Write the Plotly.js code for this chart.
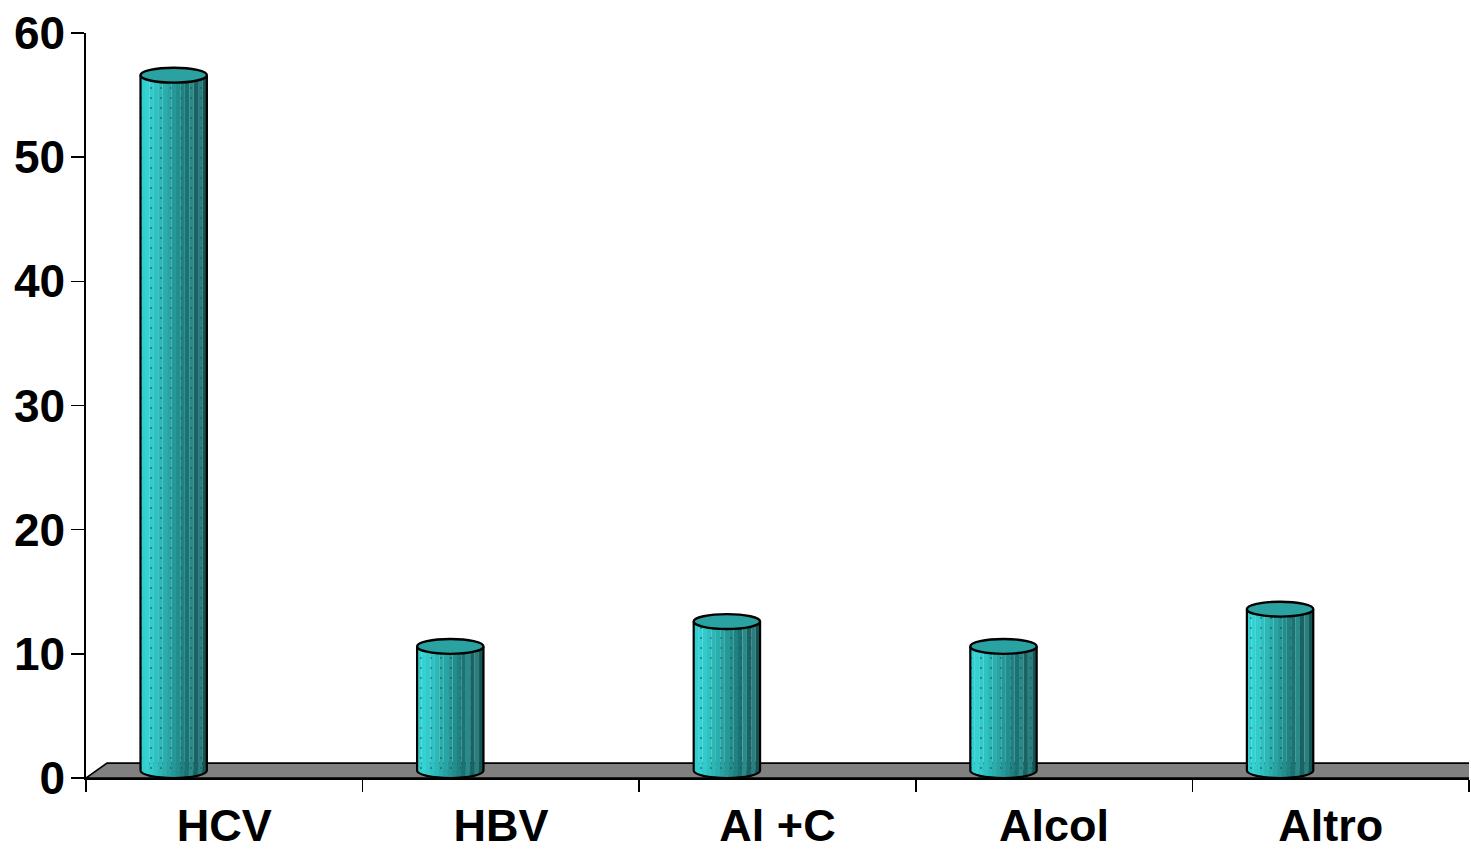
<!DOCTYPE html>
<html>
<head>
<meta charset="utf-8">
<script src="https://cdn.plot.ly/plotly-3.0.1.min.js"></script>
<style>
  html, body { margin: 0; padding: 0; background: #ffffff; }
  #chart { width: 1471px; height: 853px; }
</style>
</head>
<body>
<div id="chart"></div>
<script>
// Categories and values
const categories = ['HCV', 'HBV', 'Al +C', 'Alcol', 'Altro'];
const values = [56, 10, 12, 10, 13];
const yTicks = [0, 10, 20, 30, 40, 50, 60];

// Cylinder shading, left (lit) to right (shadow)
const shades = ['#2fcfcf', '#34d2d2', '#32caca', '#2fc1c1', '#2cb7b7', '#2aadad', '#27a3a3',
                '#249898', '#218d8d', '#1e8282', '#1b7272', '#2a8a8a', '#186464', '#2b7e7e', '#135454'];

// 3D look: floor depth (y units) and horizontal skew (x units)
const depth = 1.2;
const skew = 0.076;
const base = depth / 2;          // cylinders stand on the middle of the floor
const cylWidth = 0.24;
const cylShift = -0.183;         // cylinder centre relative to category centre
const ry = depth / 2;            // vertical radius of the end ellipses
const rx = cylWidth / 2;
const K = 0.5523;

const xs = categories.map((c, i) => i);
const nS = shades.length;
const sw = cylWidth / nS;

// One bar trace per vertical stripe of the cylinders
const traces = shades.map((col, j) => ({
  type: 'bar',
  x: xs,
  y: values,
  base: base,
  width: sw * 1.02,
  offset: cylShift - rx + j * sw,
  marker: {
    color: col,
    line: { width: 0 },
    pattern: { shape: '.', size: 10, solidity: 0.03, fgcolor: '#0d5656', fgopacity: 0.7,
               bgcolor: col, fillmode: 'overlay' }
  },
  hoverinfo: 'skip',
  showlegend: false
}));

const shapes = [];

// Floor slab
shapes.push({
  type: 'path', layer: 'below', xref: 'x', yref: 'y',
  path: `M -0.5,0 L 4.5,0 L ${4.5 + skew},${depth} L ${-0.5 + skew},${depth} Z`,
  fillcolor: '#808080',
  line: { color: '#000000', width: 1.6 }
});

values.forEach((v, i) => {
  const xc = xs[i] + cylShift;
  const xl = xc - rx, xr = xc + rx;
  const bottomAt = x => base - ry * Math.sqrt(Math.max(0, 1 - Math.pow((x - xc) / rx, 2)));

  // Rounded bottom, stripe by stripe
  shades.forEach((col, j) => {
    const a = xl + j * sw, b = a + sw;
    const pts = [];
    const steps = 4;
    for (let s = steps; s >= 0; s--) {
      const x = a + (b - a) * s / steps;
      pts.push(`L ${x},${bottomAt(x)}`);
    }
    shapes.push({
      type: 'path', xref: 'x', yref: 'y',
      path: `M ${a},${base} L ${b},${base} ${pts.join(' ')} Z`,
      fillcolor: col,
      line: { color: col, width: 0.8 }
    });
  });

  // Cylinder outline: sides and bottom arc
  shapes.push({
    type: 'path', xref: 'x', yref: 'y',
    path: `M ${xl},${base + v} L ${xl},${base} ` +
          `C ${xl},${base - K * ry} ${xc - K * rx},${base - ry} ${xc},${base - ry} ` +
          `C ${xc + K * rx},${base - ry} ${xr},${base - K * ry} ${xr},${base} ` +
          `L ${xr},${base + v}`,
    fillcolor: 'rgba(0,0,0,0)',
    line: { color: '#000000', width: 2.2 }
  });

  // Top ellipse
  shapes.push({
    type: 'circle', xref: 'x', yref: 'y',
    x0: xl, x1: xr, y0: base + v - ry, y1: base + v + ry,
    fillcolor: '#2aa2a2',
    line: { color: '#000000', width: 2.4 }
  });
});

const boundaries = categories.map((c, i) => i - 0.5).concat([categories.length - 0.5]);

const layout = {
  width: 1471,
  height: 853,
  margin: { l: 86, r: 2, t: 33, b: 75 },
  paper_bgcolor: '#ffffff',
  plot_bgcolor: '#ffffff',
  barmode: 'overlay',
  showlegend: false,
  font: { family: 'Liberation Sans, Arial, sans-serif', color: '#000000' },
  xaxis: {
    type: 'linear',
    range: [-0.5, categories.length - 0.5],
    tickmode: 'array',
    tickvals: xs,
    ticktext: categories,
    ticks: '',
    ticklabelstandoff: 7,
    tickfont: { size: 45, weight: 'bold', color: '#000000' },
    showline: true,
    linecolor: '#000000',
    linewidth: 1.6,
    showgrid: false,
    zeroline: false,
    minor: {
      tickmode: 'array',
      tickvals: boundaries,
      ticks: 'outside',
      ticklen: 12,
      tickwidth: 1.6,
      tickcolor: '#000000',
      showgrid: false
    },
    fixedrange: true
  },
  yaxis: {
    range: [0, 60],
    tickmode: 'array',
    tickvals: yTicks,
    ticks: 'outside',
    ticklen: 13,
    tickwidth: 1.6,
    tickcolor: '#000000',
    ticklabelstandoff: -3,
    tickfont: { size: 46, weight: 'bold', color: '#000000' },
    showline: true,
    linecolor: '#000000',
    linewidth: 1.6,
    showgrid: false,
    zeroline: false,
    fixedrange: true
  },
  shapes: shapes
};

Plotly.newPlot('chart', traces, layout, { staticPlot: true, displayModeBar: false });
</script>
</body>
</html>
